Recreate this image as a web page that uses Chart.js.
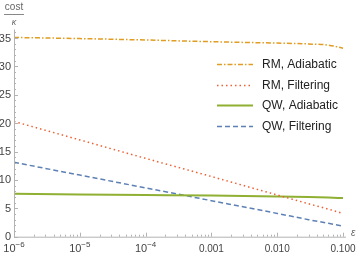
<!DOCTYPE html>
<html>
<head>
<meta charset="utf-8">
<script src="https://cdn.jsdelivr.net/npm/chart.js@4"></script>
<style>
  html, body { margin: 0; padding: 0; background: #fff; }
  #wrap { width: 357px; height: 255px; }
</style>
</head>
<body>
<div id="wrap"><canvas id="c" width="357" height="255"></canvas></div>
<script>
// epsilon values (log axis)
const eps = [1e-6, 1e-5, 1e-4, 1e-3, 1e-2, 0.03, 0.06, 0.1];
// cost / kappa for each curve
const rmAdiabatic  = [35.1, 34.9, 34.65, 34.35, 34.1, 33.95, 33.75, 33.2];
const rmFiltering  = [20.3, 17.05, 13.8, 10.6, 7.35, 5.8, 4.85, 4.1];
const qwAdiabatic  = [7.55, 7.45, 7.35, 7.25, 7.1, 7.0, 6.9, 6.8];
const qwFiltering  = [13.1, 10.85, 8.6, 6.35, 4.1, 3.0, 2.35, 1.85];
const seriesNames  = ['RM, Adiabatic', 'RM, Filtering', 'QW, Adiabatic', 'QW, Filtering'];
const yTicks = [0, 5, 10, 15, 20, 25, 30, 35];
const xDecades = [-6, -5, -4, -3, -2, -1];
const xTickText = {'-3': '0.001', '-2': '0.010', '-1': '0.100'};

const pts = arr => eps.map((x, i) => ({x: x, y: arr[i]}));
const FONT = '"Liberation Sans", Arial, sans-serif';

// axes, ticks and legend drawn by hand (mathematica look)
const frame = {
  id: 'frame',
  afterDraw(chart) {
    const ctx = chart.ctx, xs = chart.scales.x, ys = chart.scales.y, a = chart.chartArea;
    ctx.save();
    ctx.strokeStyle = '#b3b3b3';
    ctx.lineWidth = 1;
    ctx.beginPath();
    ctx.moveTo(a.left + 0.5, a.top); ctx.lineTo(a.left + 0.5, a.bottom + 0.5);
    ctx.lineTo(a.right, a.bottom + 0.5);
    ctx.stroke();

    // y ticks
    ctx.beginPath();
    for (let v = 0; v <= 36; v++) {
      const y = Math.round(ys.getPixelForValue(v)) + 0.5;
      const len = v % 5 === 0 ? 4 : 2;
      ctx.moveTo(a.left, y); ctx.lineTo(a.left + len, y);
    }
    // x ticks
    xDecades.forEach(d => {
      for (let k = 1; k <= 9; k++) {
        const v = k * Math.pow(10, d);
        if (v > xs.max) break;
        const x = Math.round(xs.getPixelForValue(v)) + 0.5;
        const len = k === 1 ? 4 : 2;
        ctx.moveTo(x, a.bottom); ctx.lineTo(x, a.bottom - len);
      }
    });
    ctx.stroke();

    // y labels
    ctx.fillStyle = '#444';
    ctx.font = '11px ' + FONT;
    ctx.textAlign = 'right';
    ctx.textBaseline = 'middle';
    yTicks.forEach(v => ctx.fillText(String(v), a.left - 3, ys.getPixelForValue(v) + 0.5));

    // x labels
    ctx.textBaseline = 'alphabetic';
    const base = a.bottom + 15;
    xDecades.forEach(d => {
      const x = xs.getPixelForValue(Math.pow(10, d));
      if (xTickText[d]) {
        ctx.textAlign = 'center';
        ctx.font = '10px ' + FONT;
        ctx.fillText(xTickText[d], x, base);
      } else {
        ctx.font = '11px ' + FONT;
        const w1 = ctx.measureText('10').width;
        ctx.font = '8px ' + FONT;
        const sup = '\u2212' + Math.abs(d);
        const w2 = ctx.measureText(sup).width;
        const x0 = x - (w1 + w2) / 2;
        ctx.textAlign = 'left';
        ctx.font = '11px ' + FONT;
        ctx.fillText('10', x0, base);
        ctx.font = '8px ' + FONT;
        ctx.fillText(sup, x0 + w1, base - 5);
      }
    });

    // axis labels
    ctx.fillStyle = '#666';
    ctx.font = 'italic 10px ' + FONT;
    ctx.textAlign = 'left';
    ctx.fillText('\u03b5', a.right + 5, a.bottom - 1);
    ctx.textAlign = 'center';
    ctx.font = '10px ' + FONT;
    ctx.fillText('cost', 14, 10);
    ctx.strokeStyle = '#888';
    ctx.beginPath(); ctx.moveTo(4, 14.5); ctx.lineTo(24, 14.5); ctx.stroke();
    ctx.font = 'italic 9px ' + FONT;
    ctx.fillText('\u03ba', 14, 25);

    // legend
    const rows = [64, 85, 105, 126];
    chart.data.datasets.forEach((ds, i) => {
      const y = rows[i] + 0.5;
      ctx.strokeStyle = ds.borderColor;
      ctx.lineWidth = ds.borderWidth;
      ctx.setLineDash(ds.borderDash || []);
      ctx.beginPath(); ctx.moveTo(217, y); ctx.lineTo(253, y); ctx.stroke();
      ctx.setLineDash([]);
      ctx.fillStyle = '#222';
      ctx.font = '12px ' + FONT;
      ctx.textAlign = 'left';
      ctx.textBaseline = 'middle';
      ctx.fillText(ds.label, 262, rows[i] + 0.5);
    });
    ctx.restore();
  }
};

new Chart(document.getElementById('c'), {
  type: 'line',
  data: {
    datasets: [
      {label: seriesNames[0], data: pts(rmAdiabatic), borderColor: '#E19C24', borderWidth: 1.5, borderDash: [5, 2, 1.5, 2]},
      {label: seriesNames[1], data: pts(rmFiltering), borderColor: '#EB6235', borderWidth: 1.5, borderDash: [1.5, 3]},
      {label: seriesNames[2], data: pts(qwAdiabatic), borderColor: '#8FB032', borderWidth: 2},
      {label: seriesNames[3], data: pts(qwFiltering), borderColor: '#5E81B5', borderWidth: 1.5, borderDash: [5, 3]}
    ]
  },
  options: {
    responsive: false,
    animation: false,
    layout: {padding: {top: 29.5, right: 11, left: 0, bottom: 0}},
    elements: {point: {radius: 0}, line: {cubicInterpolationMode: 'monotone', fill: false}},
    plugins: {legend: {display: false}, tooltip: {enabled: false}},
    scales: {
      x: {
        type: 'logarithmic', min: 1e-6, max: 0.111,
        grid: {display: false}, border: {display: false}, ticks: {display: false},
        afterFit: s => { s.height = 18.3; }
      },
      y: {
        min: 0, max: 36.5,
        grid: {display: false}, border: {display: false}, ticks: {display: false},
        afterFit: s => { s.width = 14; }
      }
    }
  },
  plugins: [frame]
});
</script>
</body>
</html>
